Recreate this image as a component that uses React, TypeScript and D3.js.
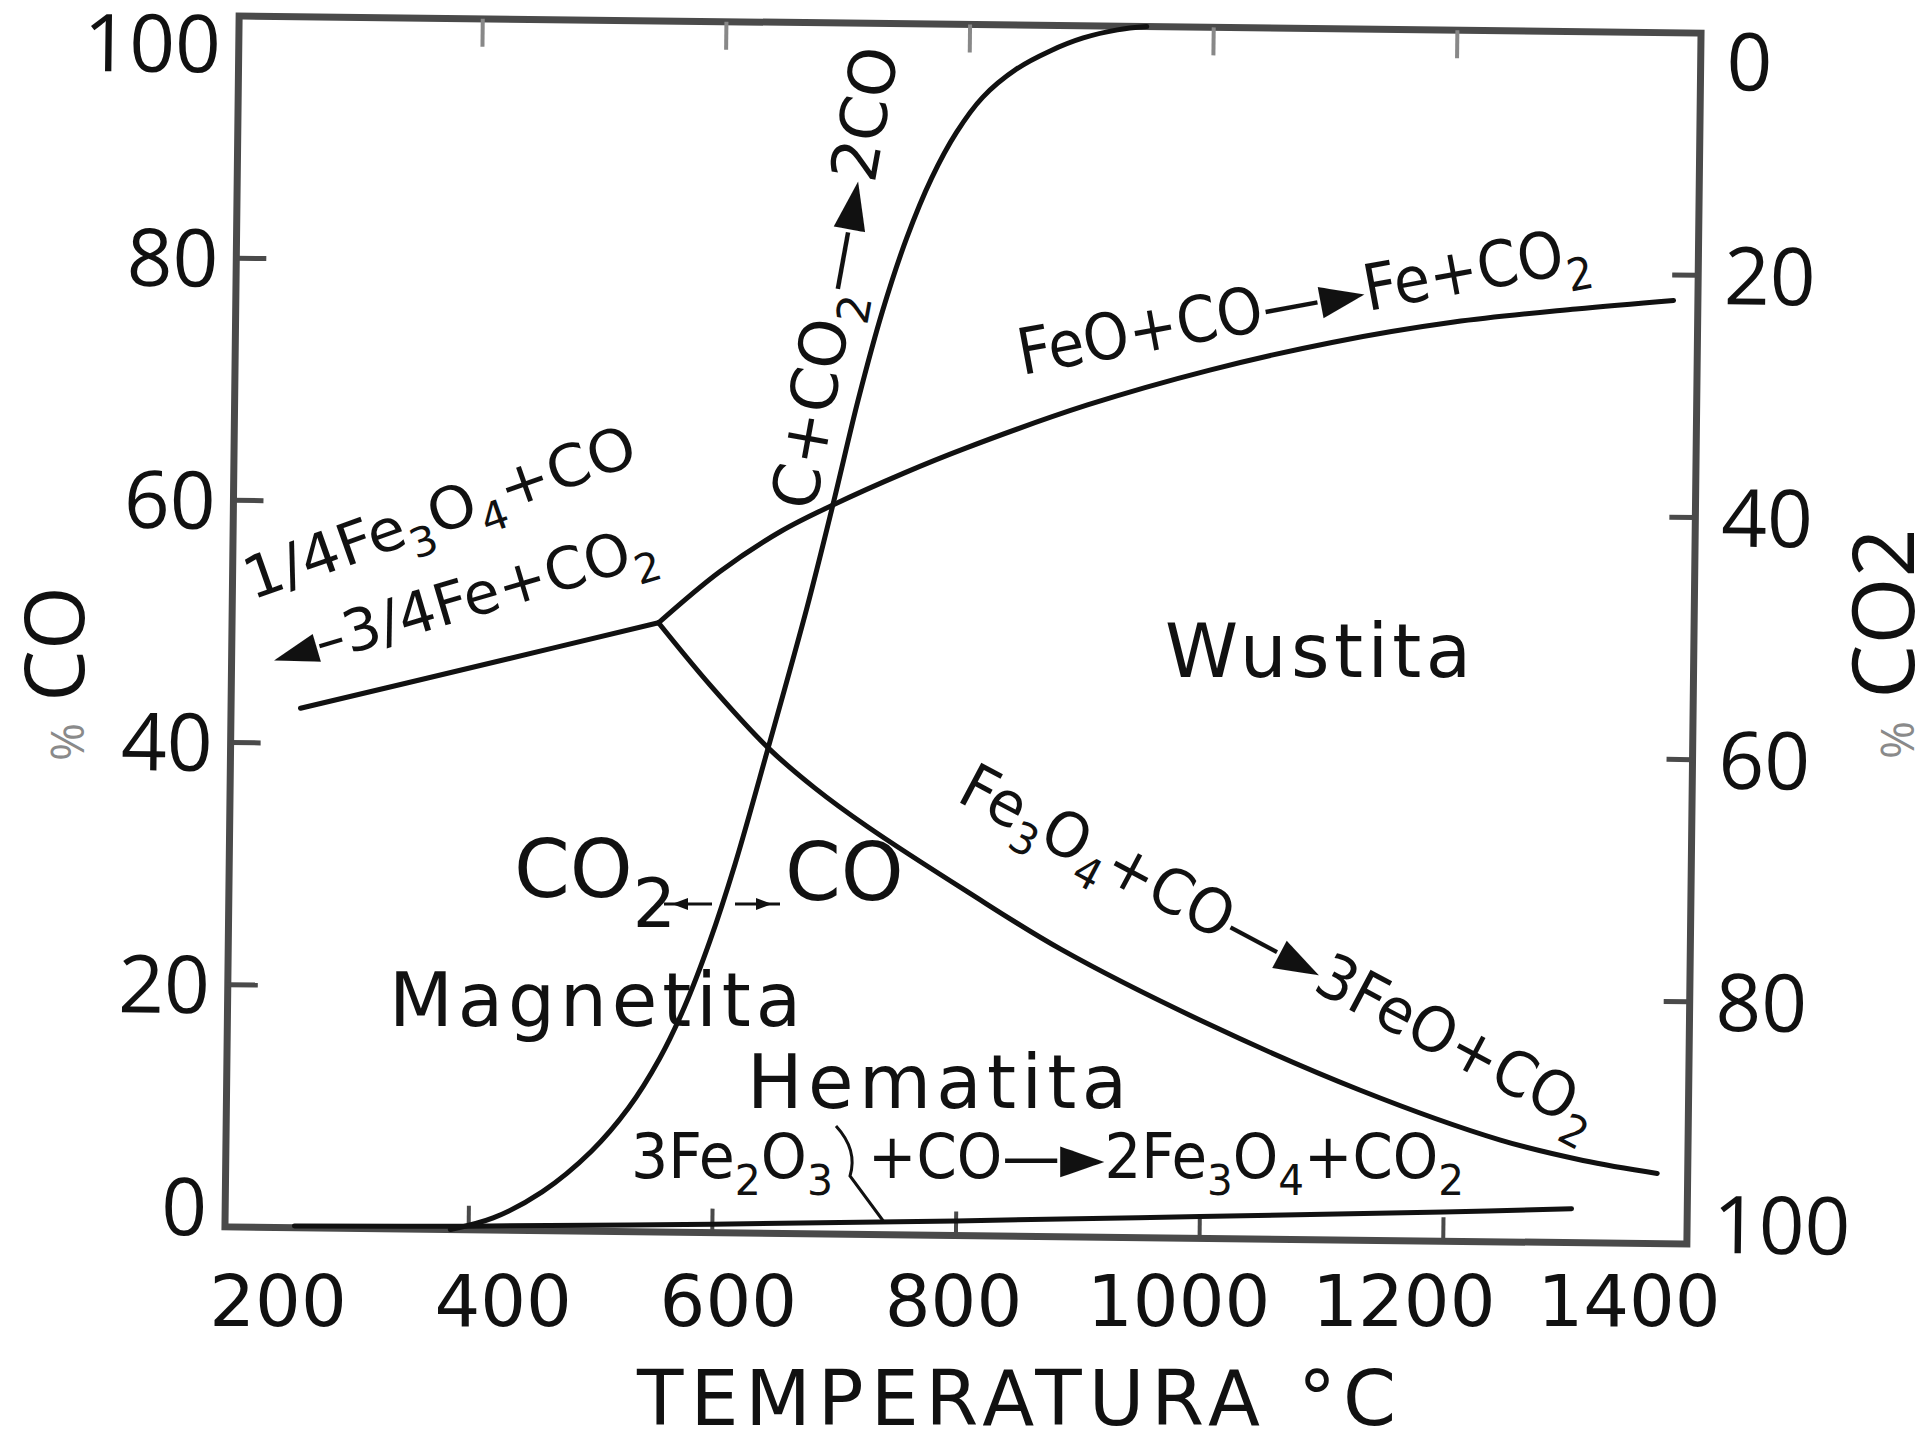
import React from "react";
import * as d3 from "d3";

const WIDTH = 1920;
const HEIGHT = 1440;

// Axis ticks
const tempTicks = [200, 400, 600, 800, 1000, 1200, 1400];
const innerTempTicks = [400, 600, 800, 1000, 1200];
const coTicks = [0, 20, 40, 60, 80, 100];
const innerPctTicks = [20, 40, 60, 80];
const co2Ticks = [0, 20, 40, 60, 80, 100];

// Equilibrium lines: temperature (°C) against % CO
// C + CO2 -> 2CO (Boudouard)
const boudouardT = [385, 420, 460, 500, 530, 555, 575, 595, 615, 641, 672, 692, 712, 731, 750, 770, 790, 811, 839, 866, 893, 921, 945];
const boudouardCO = [0, 1.0, 3.2, 6.6, 10.2, 14.3, 18.6, 24.0, 30.4, 40.0, 51.8, 60.2, 69.0, 76.3, 82.3, 87.3, 91.1, 94.0, 96.4, 97.9, 99.0, 99.7, 100];

// FeO + CO -> Fe + CO2
const wustiteIronT = [550, 600, 650, 692, 750, 800, 900, 1000, 1100, 1200, 1300, 1380];
const wustiteIronCO = [50.3, 54.6, 58.0, 60.2, 62.9, 65.0, 68.7, 71.7, 74.1, 75.9, 77.1, 77.9];

// 1/4 Fe3O4 + CO -> 3/4 Fe + CO2
const magnetiteIronT = [257, 404, 550];
const magnetiteIronCO = [42.9, 46.6, 50.3];

// Fe3O4 + CO -> 3FeO + CO2
const magnetiteWustiteT = [550, 593, 641, 680, 723, 806, 884, 1003, 1130, 1246, 1314, 1375];
const magnetiteWustiteCO = [50.3, 45.2, 40.1, 36.8, 33.7, 28.4, 23.7, 17.8, 12.4, 8.4, 6.8, 5.8];

// 3Fe2O3 + CO -> 2Fe3O4 + CO2
const hematiteMagnetiteT = [257, 400, 600, 800, 1000, 1200, 1305];
const hematiteMagnetiteCO = [0.15, 0.3, 0.7, 1.2, 1.8, 2.4, 2.8];

const FRAME = { left: 232, right: 1694, top: 24.5, bottom: 1235.5 };
const TILT = 0.67;
const PIVOT = [963, 630];

const INK = "#111";
const AXIS = "#4a4a4a";
const SANS = "DejaVu Sans";
const NUM = "Open Sans";

type Pt = [number, number];
const zip = (t: number[], c: number[]): Pt[] => t.map((v, i) => [v, c[i]]);

// Chemical formula text: "_3" marks a subscript digit
function Chem({ text, size, sub = 0.7, drop = 0.28 }: { text: string; size: number; sub?: number; drop?: number }) {
  const parts = text.split(/(_\d)/).filter((p) => p.length > 0);
  let lowered = false;
  return (
    <>
      {parts.map((p, i) => {
        if (p.startsWith("_")) {
          const dy = lowered ? 0 : size * drop;
          lowered = true;
          return (
            <tspan key={i} fontSize={size * sub} dy={dy}>
              {p.slice(1)}
            </tspan>
          );
        }
        const dy = lowered ? -size * drop : 0;
        lowered = false;
        return (
          <tspan key={i} dy={dy}>
            {p}
          </tspan>
        );
      })}
    </>
  );
}

function Label({
  x,
  y,
  angle = 0,
  text,
  size,
  length,
  sub,
  drop,
}: {
  x: number;
  y: number;
  angle?: number;
  text: string;
  size: number;
  length?: number;
  sub?: number;
  drop?: number;
}) {
  return (
    <text
      transform={`translate(${x},${y}) rotate(${angle})`}
      fontSize={size}
      fontFamily={SANS}
      fill={INK}
      textLength={length}
      lengthAdjust={length ? "spacingAndGlyphs" : undefined}
    >
      <Chem text={text} size={size} sub={sub} drop={drop} />
    </text>
  );
}

export default function App() {
  const x = d3.scaleLinear().domain([200, 1400]).range([FRAME.left, FRAME.right]);
  const y = d3.scaleLinear().domain([0, 100]).range([FRAME.bottom, FRAME.top]);
  const y2 = d3.scaleLinear().domain([100, 0]).range([FRAME.bottom, FRAME.top]);
  const tickLabelX = d3.scaleLinear().domain([200, 1400]).range([278, 1629]);

  const line = d3
    .line<Pt>()
    .x((d) => x(d[0]))
    .y((d) => y(d[1]))
    .curve(d3.curveCatmullRom.alpha(0.5));

  const curves = [
    zip(boudouardT, boudouardCO),
    zip(wustiteIronT, wustiteIronCO),
    zip(magnetiteIronT, magnetiteIronCO),
    zip(magnetiteWustiteT, magnetiteWustiteCO),
    zip(hematiteMagnetiteT, hematiteMagnetiteCO),
  ];

  const clampY = (py: number) => Math.min(Math.max(py, FRAME.top + 28), FRAME.bottom - 20);

  return (
    <svg
      width={WIDTH}
      height={HEIGHT}
      viewBox={`0 0 ${WIDTH} ${HEIGHT}`}
      style={{ position: "absolute", left: 0, top: 0, background: "#fff" }}
    >
      <rect width={WIDTH} height={HEIGHT} fill="#fff" />
      <g transform={`rotate(${TILT} ${PIVOT[0]} ${PIVOT[1]})`}>
        {/* frame */}
        <rect
          x={FRAME.left}
          y={FRAME.top}
          width={FRAME.right - FRAME.left}
          height={FRAME.bottom - FRAME.top}
          fill="none"
          stroke={AXIS}
          strokeWidth={7}
        />
        {/* inward ticks */}
        {innerPctTicks.map((v) => (
          <line key={`l${v}`} x1={FRAME.left} x2={FRAME.left + 30} y1={y(v)} y2={y(v)} stroke={AXIS} strokeWidth={5} />
        ))}
        {innerPctTicks.map((v) => (
          <line key={`r${v}`} x1={FRAME.right} x2={FRAME.right - 26} y1={y2(v)} y2={y2(v)} stroke={AXIS} strokeWidth={5} />
        ))}
        {innerTempTicks.map((t) => (
          <line key={`b${t}`} x1={x(t)} x2={x(t)} y1={FRAME.bottom} y2={FRAME.bottom - 24} stroke={AXIS} strokeWidth={4} />
        ))}
        {innerTempTicks.map((t) => (
          <line key={`t${t}`} x1={x(t)} x2={x(t)} y1={FRAME.top} y2={FRAME.top + 28} stroke="#888" strokeWidth={4} />
        ))}

        {/* left % CO labels */}
        {coTicks.map((v) => (
          <text
            key={`lc${v}`}
            x={FRAME.left - 18}
            y={clampY(y(v))}
            dy="0.36em"
            textAnchor="end"
            fontFamily={NUM}
            fontSize={80}
            fill={INK}
          >
            {v}
          </text>
        ))}
        {/* right % CO2 labels */}
        {co2Ticks.map((v) => (
          <text
            key={`rc${v}`}
            x={FRAME.right + 26}
            y={clampY(y2(v))}
            dy="0.36em"
            textAnchor="start"
            fontFamily={NUM}
            fontSize={80}
            fill={INK}
          >
            {v}
          </text>
        ))}

        {/* equilibrium lines */}
        {curves.map((c, i) => (
          <path key={i} d={line(c) ?? ""} fill="none" stroke={INK} strokeWidth={5} strokeLinejoin="round" strokeLinecap="round" />
        ))}
      </g>

      {/* temperature tick labels */}
      {tempTicks.map((t) => (
        <text key={`xt${t}`} x={tickLabelX(t)} y={1326} textAnchor="middle" fontFamily={SANS} fontSize={72} fill={INK}>
          {t}
        </text>
      ))}
      <text x={637} y={1425} fontFamily={SANS} fontSize={76} fill={INK} textLength={759} lengthAdjust="spacing">
        TEMPERATURA  °C
      </text>

      {/* axis titles */}
      <text transform="translate(84,761) rotate(-90)" fontFamily={NUM} fill={INK}>
        <tspan fontSize={46} fill="#8a8a8a">%</tspan>
        <tspan fontSize={82}> CO</tspan>
      </text>
      <text transform="translate(1914,759) rotate(-90)" fontFamily={NUM} fill={INK}>
        <tspan fontSize={46} fill="#8a8a8a">%</tspan>
        <tspan fontSize={86}> CO2</tspan>
      </text>

      {/* phase fields */}
      <text x={1165} y={677} fontFamily={SANS} fontSize={74} fill={INK} textLength={306} lengthAdjust="spacing">
        Wustita
      </text>
      <text x={389} y={1026} fontFamily={SANS} fontSize={74} fill={INK} textLength={412} lengthAdjust="spacing">
        Magnetita
      </text>
      <text x={747} y={1108} fontFamily={SANS} fontSize={74} fill={INK} textLength={380} lengthAdjust="spacing">
        Hematita
      </text>

      {/* reactions */}
      <Label x={252} y={600} angle={-19.5} text="1/4Fe_3O_4+CO" size={58} length={412} />
      <Label x={278} y={675} angle={-16.5} text="◄–3/4Fe+CO_2" size={58} length={398} />
      <Label x={815} y={512} angle={-79.7} text="C+CO_2—►2CO" size={64} length={468} />
      <Label x={1022} y={375} angle={-10.5} text="FeO+CO—►Fe+CO_2" size={64} length={580} />
      <Label x={955} y={800} angle={28} text="Fe_3O_4+CO—►3FeO+CO_2" size={62} length={715} />
      <Label x={631} y={1178} text="3Fe_2O_3" size={62} length={202} />
      <Label x={868} y={1178} text="+CO—►2Fe_3O_4+CO_2" size={62} length={596} />
      <path d="M836,1126 Q858,1150 850,1176 L884,1222" fill="none" stroke={INK} strokeWidth={3} />

      {/* CO2 / CO side of the Boudouard line */}
      <Label x={514} y={897} text="CO_2" size={80} sub={0.85} drop={0.38} />
      <text x={785} y={900} fontFamily={SANS} fontSize={80} fill={INK}>
        CO
      </text>
      <line x1={664} x2={712} y1={904} y2={904} stroke={INK} strokeWidth={3} />
      <path d="M672,904 L688,898 L688,910 Z" fill={INK} />
      <line x1={735} x2={780} y1={904} y2={904} stroke={INK} strokeWidth={3} />
      <path d="M772,904 L756,898 L756,910 Z" fill={INK} />
    </svg>
  );
}
